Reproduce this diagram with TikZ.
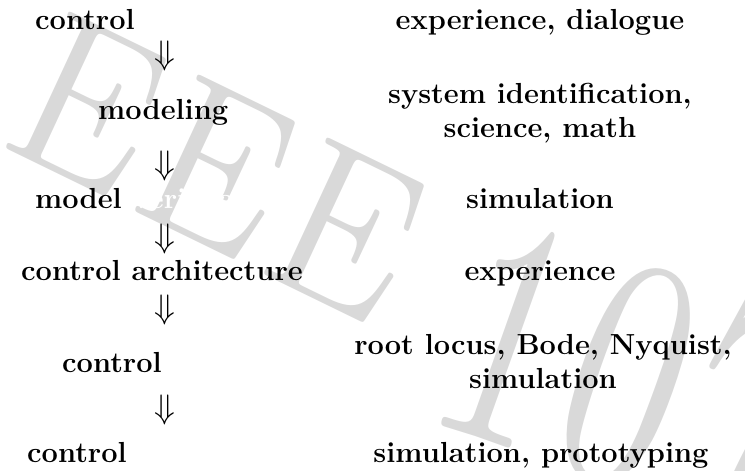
\documentclass[tikz,border=0pt]{standalone}
\usepackage{fix-cm}
\usepackage{fontspec}
\definecolor{wmgray}{HTML}{D9D9D9}
\tikzset{
  lbl/.style={inner sep=0pt, font=\fontsize{29}{34}\selectfont\bfseries},
  rlbl/.style={lbl, align=center},
  darr/.style={inner sep=0pt, font=\fontsize{34}{34}\selectfont},
  wmark/.style={inner sep=0pt, text=wmgray, anchor=base west,
    font=\fontsize{200}{200}\selectfont\itshape}
}
\begin{document}
\begin{tikzpicture}[x=1pt,y=-1pt]
\useasboundingbox (0,0) rectangle (745,471);
% watermark
\node[wmark, cm={0.975,-0.475,0.225,1.125,(0,0)}] (wm1) at (-7,142) {EEE};
\node[wmark, cm={1.2,-0.4,0.25,1.65,(0,0)}] (wm2) at (413,416) {107};
% left column
\node[lbl, anchor=base west] (l1) at (35,30) {control};
\node[darr] (a1) at (164.5,55.5) {$\Downarrow$};
\node[lbl, anchor=base west] (l2) at (98,119) {modeling};
\node[darr] (a2) at (164.5,166) {$\Downarrow$};
\node[lbl, anchor=base west] (l3) at (35,208) {model \textcolor{white}{verification}};
\node[darr] (a3) at (164.5,238.5) {$\Downarrow$};
\node[lbl, anchor=base west] (l4) at (21,280) {control architecture};
\node[darr] (a4) at (164.5,310) {$\Downarrow$};
\node[lbl, anchor=base west] (l5) at (62,372) {control};
\node[darr] (a5) at (164.5,410) {$\Downarrow$};
\node[lbl, anchor=base west] (l6) at (27,462) {control};
% right column
\node[lbl, anchor=base] (r1) at (540,30) {experience, dialogue};
\node[rlbl, anchor=center] (r2) at (540,113) {system identification,\\ science, math};
\node[lbl, anchor=base] (r3) at (540,208) {simulation};
\node[lbl, anchor=base] (r4) at (540,280) {experience};
\node[rlbl, anchor=center] (r5) at (543,362) {root locus, Bode, Nyquist,\\ simulation};
\node[lbl, anchor=base] (r6) at (541,462) {simulation, prototyping};
\end{tikzpicture}
\end{document}
